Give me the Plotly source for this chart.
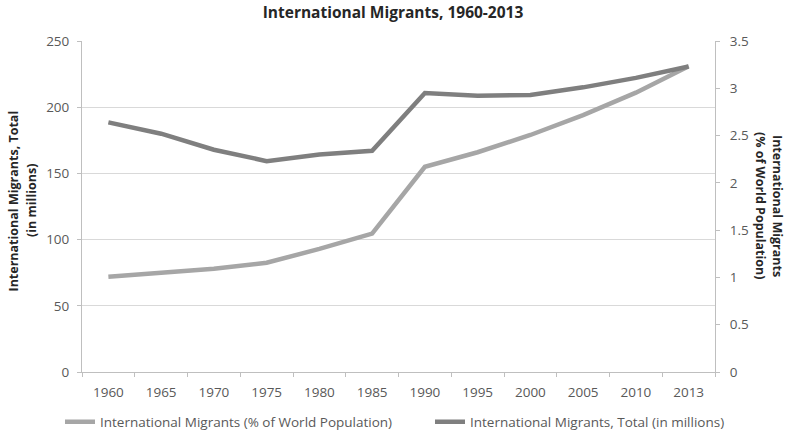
import plotly.graph_objects as go

years = ["1960", "1965", "1970", "1975", "1980", "1985", "1990", "1995", "2000", "2005", "2010", "2013"]
# light line (plotted against left axis)
light_vals = [72, 75, 78, 82.5, 93, 104.5, 155, 166, 179, 194, 211, 231]
# dark line (plotted against right axis)
dark_vals = [2.64, 2.52, 2.35, 2.23, 2.30, 2.34, 2.95, 2.92, 2.93, 3.01, 3.11, 3.23]

light_name = "International Migrants (% of World Population)"
dark_name = "International Migrants, Total (in millions)"

FONT = "Open Sans, Liberation Sans, sans-serif"
GRAY_TXT = "#595959"
W, H = 786, 436
L, R, T, B = 82, 71, 41, 64
PW, PH = W - L - R, H - T - B


def px_x(p):
    return (p - L) / PW


def px_y(p):
    return (H - B - p) / PH


fig = go.Figure()
fig.add_trace(go.Scatter(x=years, y=light_vals, name=light_name, mode="lines",
                         line=dict(color="#A6A6A6", width=4.5), yaxis="y", legend="legend"))
fig.add_trace(go.Scatter(x=years, y=dark_vals, name=dark_name, mode="lines",
                         line=dict(color="#7F7F7F", width=4.5), yaxis="y2", legend="legend2"))

leg_common = dict(orientation="h", yanchor="middle", xanchor="left",
                  font=dict(family=FONT, size=13.5, color=GRAY_TXT),
                  bgcolor="rgba(0,0,0,0)", borderwidth=0)

fig.update_layout(
    width=W, height=H,
    margin=dict(l=L, r=R, t=T, b=B, autoexpand=False),
    paper_bgcolor="white", plot_bgcolor="white",
    font=dict(family=FONT, size=13.5, color=GRAY_TXT),
    title=dict(text="<b>International Migrants, 1960-2013</b>", x=0.5, xanchor="center",
               y=1 - 13 / H, yanchor="middle", font=dict(family=FONT, size=15.5, color="#262626")),
    xaxis=dict(type="category", range=[-0.5, len(years) - 0.5], showline=True,
               linecolor="#BFBFBF", linewidth=1, automargin=False,
               ticks="outside", tickson="boundaries", ticklen=4, tickcolor="#BFBFBF",
               ticklabelstandoff=8,
               showgrid=False, tickfont=dict(size=13.5, color=GRAY_TXT)),
    yaxis=dict(range=[0, 250], dtick=50, showgrid=True, gridcolor="#D9D9D9", gridwidth=1,
               showline=True, linecolor="#BFBFBF", ticks="outside", ticklen=4,
               tickcolor="#BFBFBF", zeroline=False, ticklabelstandoff=5, automargin=False,
               tickfont=dict(size=13.5, color=GRAY_TXT)),
    yaxis2=dict(range=[0, 3.5], dtick=0.5, overlaying="y", side="right", showgrid=False,
                showline=True, linecolor="#BFBFBF", ticks="outside", ticklen=4,
                tickcolor="#BFBFBF", zeroline=False, ticklabelstandoff=7, automargin=False,
                tickfont=dict(size=13.5, color=GRAY_TXT)),
    legend=dict(x=px_x(60), y=px_y(422), **leg_common),
    legend2=dict(x=px_x(430), y=px_y(422), **leg_common),
    showlegend=True,
)

title_font = dict(family=FONT, size=12.5, color="#262626")
fig.add_annotation(text="<b>International Migrants, Total</b>", xref="paper", yref="paper",
                   x=px_x(12.5), y=px_y(201), xanchor="center", yanchor="middle",
                   textangle=-90, showarrow=False, font=title_font)
fig.add_annotation(text="<b>(in millions)</b>", xref="paper", yref="paper",
                   x=px_x(31), y=px_y(201), xanchor="center", yanchor="middle",
                   textangle=-90, showarrow=False, font=title_font)
fig.add_annotation(text="<b>International Migrants</b>", xref="paper", yref="paper",
                   x=px_x(778), y=px_y(206), xanchor="center", yanchor="middle",
                   textangle=90, showarrow=False, font=title_font)
fig.add_annotation(text="<b>(% of World Population)</b>", xref="paper", yref="paper",
                   x=px_x(761), y=px_y(206), xanchor="center", yanchor="middle",
                   textangle=90, showarrow=False, font=title_font)

fig.write_html("out.html")
